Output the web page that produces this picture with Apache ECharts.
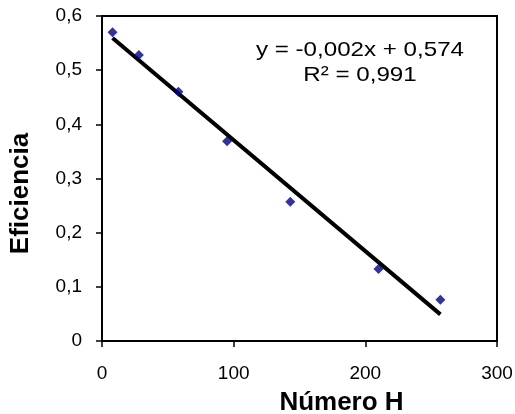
<!DOCTYPE html>
<html>
<head>
<meta charset="utf-8">
<script src="https://cdn.jsdelivr.net/npm/echarts@6/dist/echarts.min.js"></script>
<style>
  html, body { margin: 0; padding: 0; background: #ffffff; }
  #chart { width: 515px; height: 414px; }
</style>
</head>
<body>
<div id="chart"></div>
<script>
// Measured efficiency against the H number
const numeroH = [8, 28, 58, 95, 143, 210, 257];
const eficiencia = [0.570, 0.528, 0.460, 0.369, 0.257, 0.133, 0.076];

// Axis ticks
const xTicks = [0, 100, 200, 300];
const yTicks = [0, 0.1, 0.2, 0.3, 0.4, 0.5, 0.6];

// Trendline label text
const equationText = 'y = -0,002x + 0,574';
const r2Text = 'R² = 0,991';

// Least-squares fit for the linear trendline
function linearFit(xs, ys) {
  const n = xs.length;
  const mx = xs.reduce((a, b) => a + b, 0) / n;
  const my = ys.reduce((a, b) => a + b, 0) / n;
  let sxy = 0, sxx = 0;
  for (let i = 0; i < n; i++) {
    sxy += (xs[i] - mx) * (ys[i] - my);
    sxx += (xs[i] - mx) * (xs[i] - mx);
  }
  const slope = sxy / sxx;
  return { slope: slope, intercept: my - slope * mx };
}
const fit = linearFit(numeroH, eficiencia);
const xStart = Math.min.apply(null, numeroH);
const xEnd = Math.max.apply(null, numeroH);
const trendData = [
  [xStart, fit.intercept + fit.slope * xStart],
  [xEnd, fit.intercept + fit.slope * xEnd]
];

const FONT = '"Liberation Sans", Arial, sans-serif';

const chart = echarts.init(document.getElementById('chart'), null, { renderer: 'canvas' });
chart.setOption({
  animation: false,
  backgroundColor: '#ffffff',
  grid: {
    left: 102, right: 18, top: 16, bottom: 73,
    outerBoundsMode: 'none',
    containLabel: false,
    show: true, borderColor: '#000000', borderWidth: 2, backgroundColor: 'transparent'
  },
  xAxis: {
    type: 'value',
    min: xTicks[0], max: xTicks[xTicks.length - 1], interval: 100,
    name: 'Número H',
    nameLocation: 'middle',
    nameGap: 49,
    nameTextStyle: { fontFamily: FONT, fontSize: 26, fontWeight: 'bold', color: '#000', padding: [0, 0, 0, 84] },
    axisLine: { show: true, onZero: false, lineStyle: { color: '#000', width: 2 } },
    axisTick: { show: true, inside: false, length: 6, lineStyle: { color: '#000', width: 1.5 } },
    axisLabel: { margin: 23, fontFamily: FONT, fontSize: 19, color: '#000' },
    splitLine: { show: false }
  },
  yAxis: {
    type: 'value',
    min: yTicks[0], max: yTicks[yTicks.length - 1], interval: 0.1,
    name: 'Eficiencia',
    nameLocation: 'middle',
    nameGap: 68,
    nameTextStyle: { fontFamily: FONT, fontSize: 26, fontWeight: 'bold', color: '#000', padding: [0, 30, 0, 0] },
    axisLine: { show: true, onZero: false, lineStyle: { color: '#000', width: 2 } },
    axisTick: { show: true, inside: false, length: 6, lineStyle: { color: '#000', width: 1.5 } },
    axisLabel: {
      margin: 20, fontFamily: FONT, fontSize: 19, color: '#000',
      formatter: function (v) { return v === 0 ? '0' : v.toFixed(1).replace('.', ','); }
    },
    splitLine: { show: false }
  },
  graphic: [
    {
      type: 'text',
      x: 360, y: 50, scaleX: 1.15,
      style: { text: equationText, fontFamily: FONT, fontSize: 21, fill: '#000', align: 'center', verticalAlign: 'middle' }
    },
    {
      type: 'text',
      x: 360, y: 75, scaleX: 1.15,
      style: { text: r2Text, fontFamily: FONT, fontSize: 21, fill: '#000', align: 'center', verticalAlign: 'middle' }
    }
  ],
  series: [
    {
      type: 'line',
      data: trendData,
      symbol: 'none',
      lineStyle: { color: '#000000', width: 4 },
      z: 2,
      silent: true
    },
    {
      type: 'scatter',
      data: numeroH.map((x, i) => [x, eficiencia[i]]),
      symbol: 'diamond',
      symbolSize: [10, 10],
      itemStyle: { color: '#000080' },
      z: 3
    }
  ]
});
</script>
</body>
</html>
